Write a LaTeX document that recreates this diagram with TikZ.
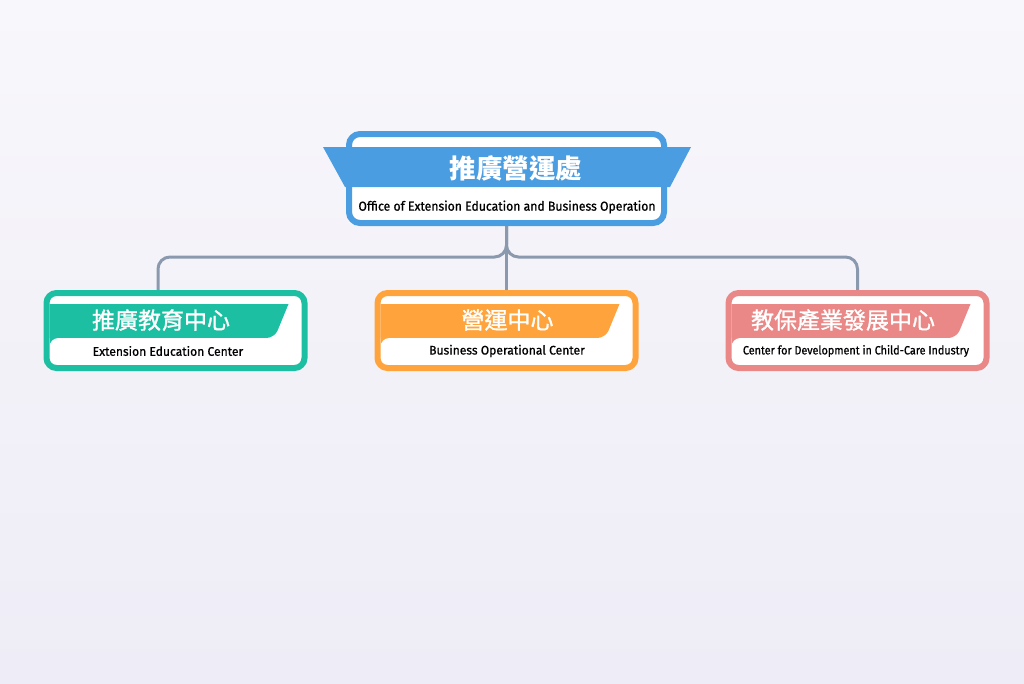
\documentclass[tikz,border=0pt]{standalone}
\usepackage{fontspec}
\newfontfamily\cjk{Noto Sans CJK TC}
\newfontfamily\cjkm{Noto Sans CJK TC}[FakeBold=1.2]
\newfontfamily\enf{Fira Sans}[FakeStretch=0.94, FakeBold=0.8]
\newfontfamily\enfp{Fira Sans}[FakeStretch=0.9, FakeBold=0.8]
\newfontfamily\enfs{Fira Sans}[FakeStretch=0.97, FakeBold=0.8]
\usetikzlibrary{calc}
\definecolor{bgtop}{HTML}{F8F7FB}
\definecolor{bgbot}{HTML}{EEECF6}
\definecolor{cblue}{HTML}{4A9DE0}
\definecolor{cgreen}{HTML}{1DBFA3}
\definecolor{corange}{HTML}{FFA43C}
\definecolor{cpink}{HTML}{E98886}
\definecolor{cconn}{HTML}{8A99AE}
\tikzset{
  boxbase/.style={rectangle, fill=white, inner sep=0pt, outer sep=0pt},
  topbox/.style={boxbase, minimum width=315pt, minimum height=89pt},
  childbox/.style={boxbase, minimum width=258pt, minimum height=75pt},
  conn/.style={draw=cconn, line width=3pt, rounded corners=12pt},
  zhtitle/.style={text=white, font=\cjk\bfseries\fontsize{26.5}{27}\selectfont, inner sep=0pt},
  zhsub/.style={text=white, font=\cjkm\fontsize{23}{23}\selectfont, inner sep=0pt},
  entitle/.style={text=black, font=\enf\fontsize{13}{14}\selectfont, inner sep=0pt},
  ensub/.style={text=black, font=\enfs\fontsize{12.5}{13}\selectfont, inner sep=0pt},
  ensubp/.style={text=black, font=\enfp\fontsize{12}{13}\selectfont, inner sep=0pt},
  rim/.style={line width=6pt, rounded corners=10pt}
}
\begin{document}
\begin{tikzpicture}[x=1pt,y=-1pt]
\useasboundingbox (0,0) rectangle (1024,683);
\shade[top color=bgtop, bottom color=bgbot] (0,0) rectangle (1024,683);

% boxes (fill only)
\node[topbox] (top) at (506.5,178.5) {};
\node[childbox] (g) at (175.5,330.5) {};
\node[childbox] (o) at (506.5,330.5) {};
\node[childbox] (p) at (857.5,330.5) {};

% connectors
\coordinate (j) at (506.5,257);
\draw[conn] (top.south) -- (j) -| ([xshift=-17.5pt]g.north);
\draw[conn] (top.south) -- (j) -| (p.north);
\draw[conn] (top.south) -- (o.north);

% top band
\fill[cblue] (323,147) -- (691,147) -- (670,187) -- (345,187) -- cycle;
\draw[cblue, rim, rounded corners=11pt] (top.north west) rectangle (top.south east);
\node[zhtitle] (tzh) at (516,168) {推廣營運處};
\node[entitle] (ten) at (507,207) {Office of Extension Education and Business Operation};

% child bands
\foreach \n/\c in {g/cgreen, o/corange, p/cpink}{
  \path (\n.center) coordinate (cc);
  \fill[\c] let \p1=(cc) in
    (\x1-126,304) -- (\x1+113,304) [rounded corners=8pt]-- (\x1+99,338) [sharp corners]-- (\x1-126,338) -- cycle;
  \fill[\c] let \p1=(cc) in (\x1-126,336) rectangle (\x1-112,350);
  \fill[white, rounded corners=9pt] let \p1=(cc) in (\x1-126,338) rectangle (\x1+126,365);
  \draw[\c, rim] (\n.north west) rectangle (\n.south east);
}

\node[zhsub] (gzh) at (161,320) {推廣教育中心};
\node[ensub] (gen) at (168,351) {Extension Education Center};
\node[zhsub] (ozh) at (507.5,320) {營運中心};
\node[ensub] (oen) at (507,351) {Business Operational Center};
\node[zhsub] (pzh) at (843,320) {教保產業發展中心};
\node[ensubp] (pen) at (856,351) {Center for Development in Child-Care Industry};
\end{tikzpicture}
\end{document}
